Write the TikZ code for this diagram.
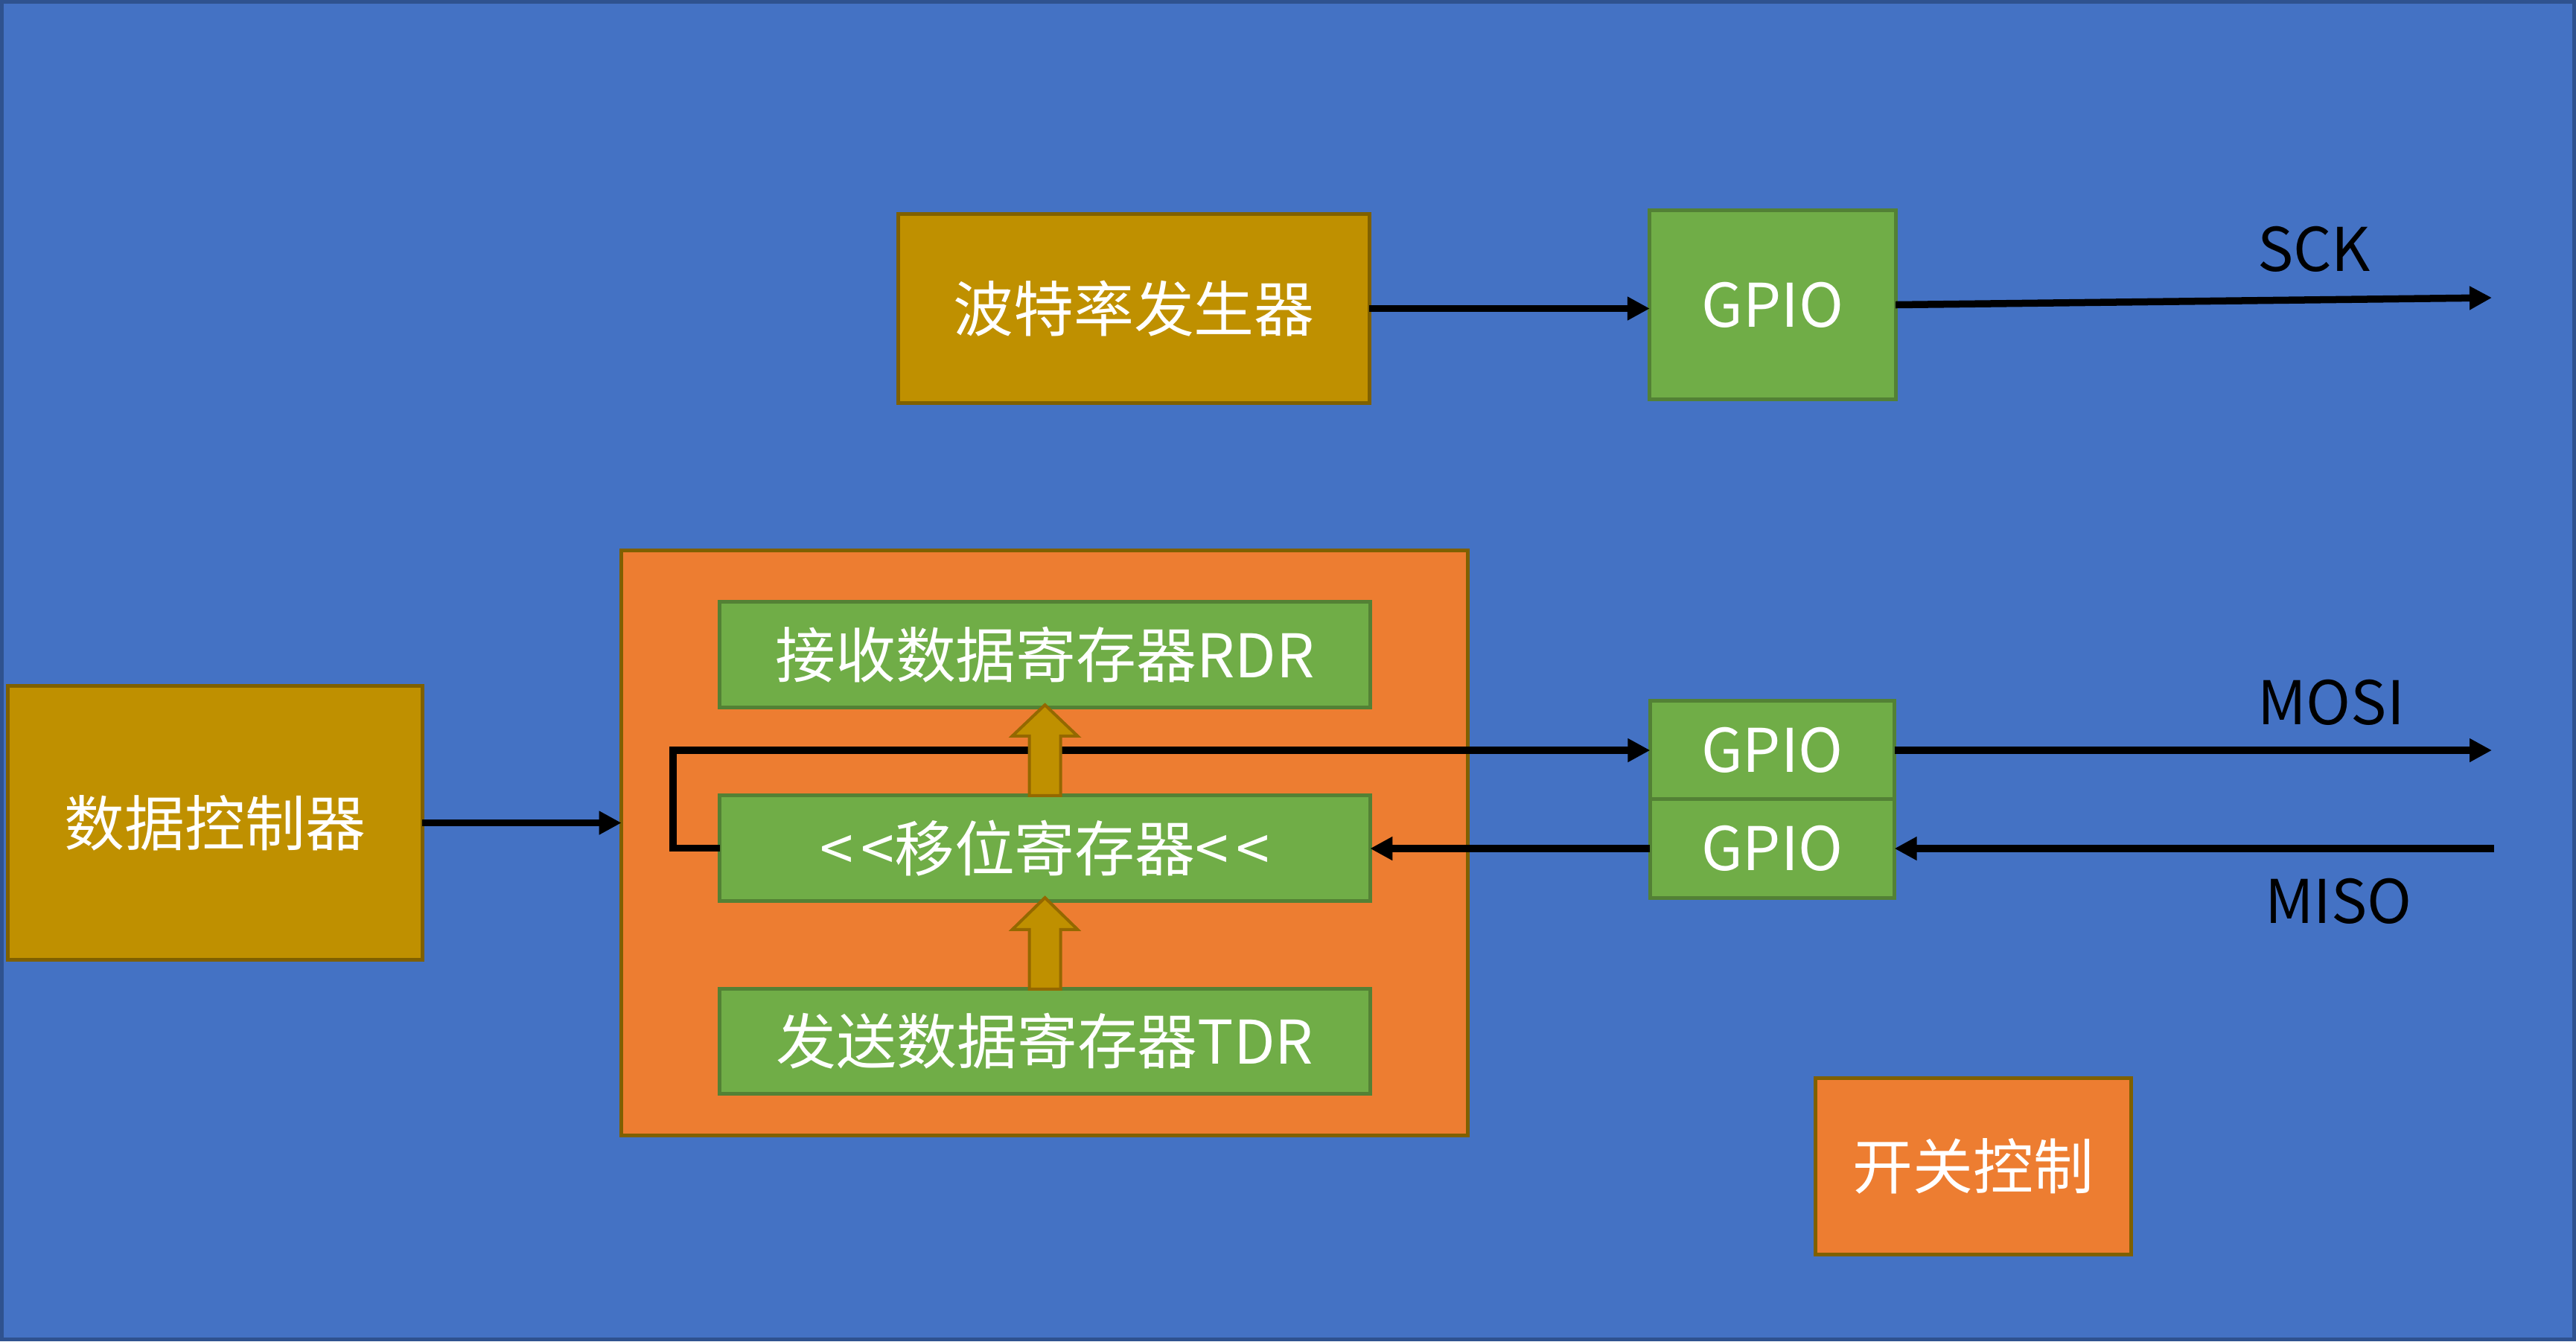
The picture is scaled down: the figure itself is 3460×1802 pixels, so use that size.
\documentclass[tikz,border=0pt]{standalone}
\usepackage{fontspec}
\newfontfamily\cjk{Noto Sans CJK SC}
\usetikzlibrary{arrows.meta,calc}
\definecolor{bgblue}{HTML}{4472C4}
\definecolor{bgborder}{HTML}{2F528F}
\definecolor{gold}{HTML}{BF9000}
\definecolor{goldborder}{HTML}{7F6000}
\definecolor{arrowborder}{HTML}{946800}
\definecolor{orangefill}{HTML}{ED7D31}
\definecolor{greenfill}{HTML}{70AD47}
\definecolor{greenborder}{HTML}{538135}
\tikzset{
  txt/.style={font=\cjk\fontsize{23pt}{28pt}\selectfont},
  base/.style={txt, rectangle, inner sep=0pt, outer sep=0pt, line width=0.05cm, text=white},
  goldbox/.style={base, fill=gold, draw=goldborder},
  greenbox/.style={base, fill=greenfill, draw=greenborder},
  orangebox/.style={base, fill=orangefill, draw=goldborder},
  conn/.style={black, line width=0.095cm, -{Triangle[length=0.3cm,width=0.3cm]}},
  blockarrow/.style={fill=gold, draw=arrowborder, line width=0.04cm, line join=miter},
  sig/.style={txt, text=black, inner sep=0pt}
}
\begin{document}
\begin{tikzpicture}[x=0.01cm,y=-0.01cm]
\useasboundingbox (0,0) rectangle (3460,1802);
\fill[bgblue] (0,0) rectangle (3460,1802);
\draw[bgborder, line width=0.05cm] (2.5,2.5) rectangle (3457.5,1799.5);

% boxes
\node[goldbox, minimum width=6.32cm, minimum height=2.53cm] (baud) at (1523,414.5) {波特率发生器};
\node[greenbox, minimum width=3.30cm, minimum height=2.53cm] (gpio1) at (2381,409.5) {GPIO};
\node[orangebox, minimum width=11.36cm, minimum height=7.85cm] (main) at (1403,1132.5) {};
\node[greenbox, minimum width=8.73cm, minimum height=1.41cm] (rdr) at (1403.5,879.5) {接收数据寄存器RDR};
\node[greenbox, minimum width=8.73cm, minimum height=1.41cm] (shift) at (1403.5,1139.5) {<\hspace{0.12em}<移位寄存器<\hspace{0.12em}<};
\node[greenbox, minimum width=8.73cm, minimum height=1.40cm] (tdr) at (1403.5,1399) {发送数据寄存器TDR};
\node[goldbox, minimum width=5.56cm, minimum height=3.67cm] (dc) at (289,1105.5) {数据控制器};
\node[greenbox, minimum width=3.28cm, minimum height=1.32cm] (gpio2) at (2380.5,1008) {GPIO};
\node[greenbox, minimum width=3.28cm, minimum height=1.33cm] (gpio3) at (2380.5,1140) {GPIO};
\node[orangebox, minimum width=4.23cm, minimum height=2.36cm] (sw) at (2650.5,1567) {开关控制};

% signal labels
\node[sig] (sck) at (3108,335) {SCK};
\node[sig] (mosi) at (3131,944) {MOSI};
\node[sig] (miso) at (3141,1211) {MISO};

% free ends
\coordinate (sckend) at (3347,400);
\coordinate (mosiend) at (3347,1008);
\coordinate (misostart) at (3350,1140);
\coordinate (loopx) at (904,0);

% connectors
\draw[conn] (baud.east) -- (baud.east -| gpio1.west);
\draw[conn] (gpio1.east) -- (sckend);
\draw[conn] (dc.east) -- (dc.east -| main.west);
\draw[conn] (shift.west) -- (shift.west -| loopx) -- (loopx |- gpio2.west) -- (gpio2.west);
\draw[conn] (gpio2.east) -- (mosiend);
\draw[conn] (misostart) -- (gpio3.east);
\draw[conn] (gpio3.west) -- (gpio3.west -| shift.east);

% block arrows
\draw[blockarrow] ($(shift.north)+(-21,0)$) -- ($(shift.north)+(-21,-80)$) -- ($(shift.north)+(-44,-80)$)
  -- ($(rdr.south)+(0,-3)$) -- ($(shift.north)+(44,-80)$) -- ($(shift.north)+(21,-80)$) -- ($(shift.north)+(21,0)$) -- cycle;
\draw[blockarrow] ($(tdr.north)+(-21,0)$) -- ($(tdr.north)+(-21,-80)$) -- ($(tdr.north)+(-44,-80)$)
  -- ($(shift.south)+(0,-4)$) -- ($(tdr.north)+(44,-80)$) -- ($(tdr.north)+(21,-80)$) -- ($(tdr.north)+(21,0)$) -- cycle;
\end{tikzpicture}
\end{document}
